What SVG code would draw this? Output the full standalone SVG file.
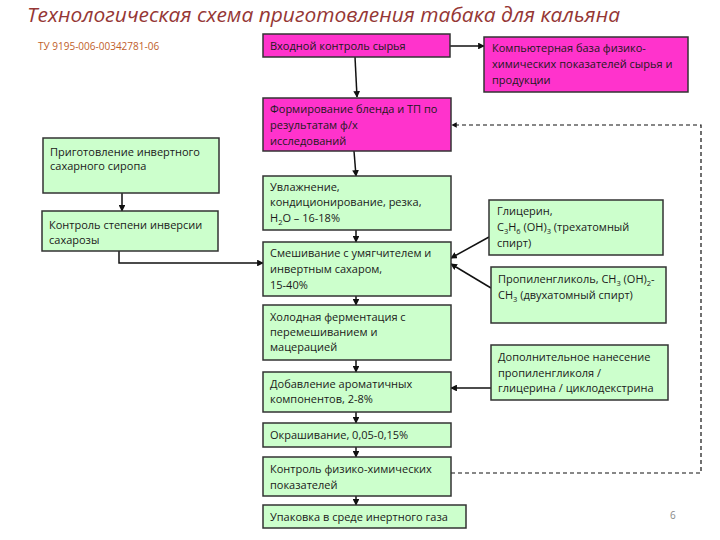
<svg xmlns="http://www.w3.org/2000/svg" width="720" height="540" viewBox="0 0 720 540">
<style>
.t{font-family:"Open Sans","Liberation Sans",sans-serif;font-size:11px;fill:#1a1a1a}
.m{fill:#FF33CC;stroke:#333;stroke-width:1.5}
.g{fill:#CCFFCC;stroke:#333;stroke-width:1.5}
.c{stroke:#111;stroke-width:1.5;fill:none}
.d{stroke:#111;stroke-width:1.2;fill:none;stroke-dasharray:4 3}
</style>
<defs>
<marker id="a" viewBox="0 0 8 8" refX="7" refY="4" markerWidth="4.5" markerHeight="4.5" orient="auto"><path d="M0,0L8,4L0,8z" fill="#111"/></marker>
</defs>
<rect width="720" height="540" fill="#fff"/>
<text x="27" y="22" font-family="Open Sans, Liberation Sans, sans-serif" font-style="italic" font-size="19.5" fill="#953735" textLength="593" lengthAdjust="spacingAndGlyphs">Технологическая схема приготовления табака для кальяна</text>
<text x="38" y="50" font-family="Open Sans, Liberation Sans, sans-serif" font-size="10" fill="#C0602A">ТУ 9195-006-00342781-06</text>
<text x="670" y="519" font-family="Open Sans, Liberation Sans, sans-serif" font-size="10" fill="#888">6</text>

<g id="connectors">
<path class="c" d="M355,57L357,97" marker-end="url(#a)"/>
<path class="c" d="M450,46H484" marker-end="url(#a)"/>
<path class="c" d="M354,151L356,176" marker-end="url(#a)"/>
<path class="c" d="M356,230V242" marker-end="url(#a)"/>
<path class="c" d="M356,296V305" marker-end="url(#a)"/>
<path class="c" d="M356,360V372" marker-end="url(#a)"/>
<path class="c" d="M356,412V423" marker-end="url(#a)"/>
<path class="c" d="M356,447V457" marker-end="url(#a)"/>
<path class="c" d="M356,496V505" marker-end="url(#a)"/>
<path class="c" d="M122,193V211" marker-end="url(#a)"/>
<path class="c" d="M119,251V263H263" marker-end="url(#a)"/>
<path class="c" d="M489,237L451,258" marker-end="url(#a)"/>
<path class="c" d="M491,288L451,264" marker-end="url(#a)"/>
<path class="c" d="M491,388H451" marker-end="url(#a)"/>
<path class="d" d="M451,473H701V125H452" marker-end="url(#a)"/>
</g>

<g id="n1"><rect class="m" x="263" y="34" width="187" height="23"/><text class="t" x="270" y="50">Входной контроль  сырья</text></g>
<g id="n2"><rect class="m" x="484" y="37" width="204" height="55"/><text class="t" x="492" y="52">Компьютерная база физико-</text><text class="t" x="492" y="68">химических показателей сырья и</text><text class="t" x="492" y="84">продукции</text></g>
<g id="n3"><rect class="m" x="263" y="98" width="188" height="53"/><text class="t" x="270" y="113">Формирование бленда и ТП по</text><text class="t" x="270" y="129">результатам ф/х</text><text class="t" x="270" y="145">исследований</text></g>
<g id="n4"><rect class="g" x="263" y="176" width="188" height="54"/><text class="t" x="270" y="191">Увлажнение,</text><text class="t" x="270" y="206">кондиционирование, резка,</text><text class="t" x="270" y="222">H<tspan font-size="7.5" dy="3">2</tspan><tspan dy="-3">O – 16-18%</tspan></text></g>
<g id="n5"><rect class="g" x="263" y="242" width="188" height="54"/><text class="t" x="270" y="257">Смешивание с умягчителем и</text><text class="t" x="270" y="273">инвертным сахаром,</text><text class="t" x="270" y="289">15-40%</text></g>
<g id="n6"><rect class="g" x="263" y="305" width="188" height="55"/><text class="t" x="270" y="321">Холодная ферментация с</text><text class="t" x="270" y="336">перемешиванием и</text><text class="t" x="270" y="351">мацерацией</text></g>
<g id="n7"><rect class="g" x="263" y="372" width="188" height="40"/><text class="t" x="270" y="388">Добавление ароматичных</text><text class="t" x="270" y="403">компонентов, 2-8%</text></g>
<g id="n8"><rect class="g" x="263" y="423" width="188" height="24"/><text class="t" x="270" y="439">Окрашивание,  0,05-0,15%</text></g>
<g id="n9"><rect class="g" x="263" y="457" width="188" height="39"/><text class="t" x="270" y="473">Контроль физико-химических</text><text class="t" x="270" y="489">показателей</text></g>
<g id="n10"><rect class="g" x="263" y="505" width="203" height="23"/><text class="t" x="270" y="521">Упаковка в среде инертного газа</text></g>
<g id="n11"><rect class="g" x="489" y="200" width="174" height="55"/><text class="t" x="497" y="215">Глицерин,</text><text class="t" x="497" y="231">C<tspan font-size="7.5" dy="3">3</tspan><tspan dy="-3">H</tspan><tspan font-size="7.5" dy="3">6</tspan><tspan dy="-3"> (OH)</tspan><tspan font-size="7.5" dy="3">3</tspan><tspan dy="-3"> (трехатомный</tspan></text><text class="t" x="497" y="247">спирт)</text></g>
<g id="n12"><rect class="g" x="491" y="267" width="175" height="56"/><text class="t" x="498" y="283">Пропиленгликоль, CH<tspan font-size="7.5" dy="3">3</tspan><tspan dy="-3"> (OH)</tspan><tspan font-size="7.5" dy="3">2</tspan><tspan dy="-3">-</tspan></text><text class="t" x="498" y="299">CH<tspan font-size="7.5" dy="3">3</tspan><tspan dy="-3"> (двухатомный спирт)</tspan></text></g>
<g id="n13"><rect class="g" x="491" y="345" width="177" height="55"/><text class="t" x="498" y="361">Дополнительное нанесение</text><text class="t" x="498" y="377">пропиленгликоля /</text><text class="t" x="498" y="392">глицерина / циклодекстрина</text></g>
<g id="n14"><rect class="g" x="43" y="138" width="176" height="55"/><text class="t" x="50" y="156">Приготовление инвертного</text><text class="t" x="50" y="170">сахарного сиропа</text></g>
<g id="n15"><rect class="g" x="42" y="211" width="176" height="40"/><text class="t" x="49" y="229">Контроль степени инверсии</text><text class="t" x="49" y="244">сахарозы</text></g>
</svg>
